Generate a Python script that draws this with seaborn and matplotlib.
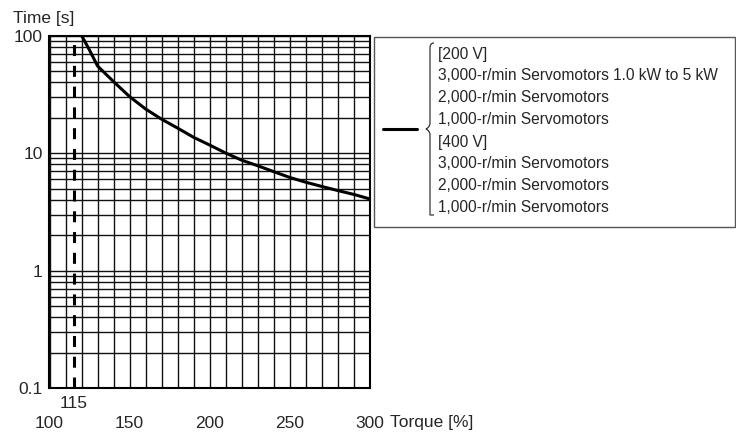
import seaborn as sns
import matplotlib.pyplot as plt
import matplotlib.ticker as mticker
from matplotlib.path import Path
from matplotlib.patches import PathPatch, Rectangle
from matplotlib.lines import Line2D

# overload curve
torque = [120, 125, 130, 140, 150, 160, 170, 180, 190, 200,
          210, 220, 230, 240, 250, 260, 270, 280, 290, 300]
time_s = [100, 75, 55, 40.5, 30.2, 23.7, 19.4, 16.3, 13.6, 11.7,
          10.0, 8.7, 7.8, 6.95, 6.2, 5.65, 5.2, 4.8, 4.45, 4.07]
rated_torque = 115

x_ticks = [100, 150, 200, 250, 300]
y_ticks = [0.1, 1, 10, 100]
y_labels = ["0.1", "1", "10", "100"]

legend_lines = ["[200 V]",
                "3,000-r/min Servomotors 1.0 kW to 5 kW",
                "2,000-r/min Servomotors",
                "1,000-r/min Servomotors",
                "[400 V]",
                "3,000-r/min Servomotors",
                "2,000-r/min Servomotors",
                "1,000-r/min Servomotors"]

sns.set_style("white")
plt.rcParams['font.family'] = ['Liberation Sans', 'DejaVu Sans']

W, H = 736, 432
fig = plt.figure(figsize=(W / 100, H / 100), dpi=100)


def fx(px):
    return px / W


def fy(py):
    return 1 - py / H


ax = fig.add_axes([fx(49.5), fy(388.3), (370 - 49.5) / W, (388.3 - 35.5) / H])

sns.lineplot(x=torque, y=time_s, color="black", lw=2.2, ax=ax)
ax.axvline(rated_torque, color="black", lw=2.2, dashes=(3.6, 3.2))

ax.set_yscale("log")
ax.set_xlim(100, 300)
ax.set_ylim(0.1, 100)

ax.set_xticks(x_ticks)
ax.xaxis.set_minor_locator(mticker.MultipleLocator(10))
ax.set_yticks(y_ticks)
ax.set_yticklabels(y_labels)
ax.yaxis.set_minor_locator(mticker.LogLocator(base=10, subs=range(2, 10)))
ax.yaxis.set_minor_formatter(mticker.NullFormatter())

ax.grid(True, which="both", color="#111111", lw=1.0)
ax.set_axisbelow(True)
ax.tick_params(axis="x", which="both", length=0, pad=20, labelsize=12.5)
ax.tick_params(axis="y", which="major", length=4, width=1, pad=1, labelsize=12.5)
ax.tick_params(axis="y", which="minor", length=0)
for sp in ax.spines.values():
    sp.set_color("black")
    sp.set_linewidth(1.5)

ax.annotate(str(rated_torque), xy=(rated_torque, 0), xycoords=("data", "axes fraction"),
            xytext=(0, -11), textcoords="offset points", ha="center", va="center",
            fontsize=12.5)
fig.text(fx(390), fy(423), "Torque [%]", ha="left", va="center", fontsize=12.5)
fig.text(fx(13), fy(18), "Time [s]", ha="left", va="center", fontsize=12.5)

# legend box
fig.patches.append(Rectangle((fx(374), fy(227)), fx(735) - fx(374), fy(37) - fy(227),
                             transform=fig.transFigure, fill=False,
                             edgecolor="#555555", lw=1))
fig.lines.append(Line2D([fx(383), fx(417)], [fy(129), fy(129)],
                        transform=fig.transFigure, color="black", lw=2.2))

# curly brace
bx, tip, top, bot, mid = 430, 426, 43, 215, 129
verts = [(bx + 4, top), (bx, top), (bx, top + 5), (bx, top + 8),
         (bx, mid - 6), (bx, mid - 2), (tip, mid),
         (bx, mid + 2), (bx, mid + 6),
         (bx, bot - 8), (bx, bot - 5), (bx, bot), (bx + 4, bot)]
codes = [Path.MOVETO, Path.CURVE3, Path.CURVE3, Path.LINETO,
         Path.LINETO, Path.CURVE3, Path.CURVE3,
         Path.CURVE3, Path.CURVE3,
         Path.LINETO, Path.CURVE3, Path.CURVE3, Path.LINETO]
verts = [(fx(a), fy(b)) for a, b in verts]
fig.patches.append(PathPatch(Path(verts, codes), transform=fig.transFigure,
                             fill=False, edgecolor="#333333", lw=0.9))

for i, line in enumerate(legend_lines):
    fig.text(fx(438), fy(54 + 22 * i), line, ha="left", va="center", fontsize=11.2)

fig.savefig("out.png", dpi=100)
